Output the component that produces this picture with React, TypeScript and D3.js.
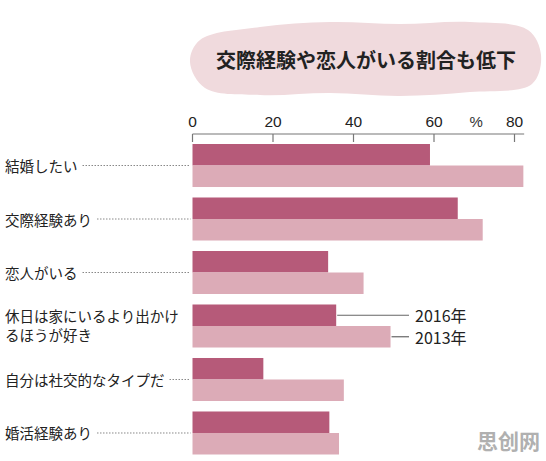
import { useMemo } from "react";
import * as d3 from "d3";

// survey items, top to bottom
const categories = [
  "結婚したい",
  "交際経験あり",
  "恋人がいる",
  "休日は家にいるより出かけるほうが好き",
  "自分は社交的なタイプだ",
  "婚活経験あり",
];
// the long one wraps onto two lines
const labelLines: string[][] = [
  ["結婚したい"],
  ["交際経験あり"],
  ["恋人がいる"],
  ["休日は家にいるより出かけ", "るほうが好き"],
  ["自分は社交的なタイプだ"],
  ["婚活経験あり"],
];
const series = ["2016年", "2013年"];
const values2016 = [59.0, 65.9, 33.7, 35.7, 17.6, 34.0];
const values2013 = [82.2, 72.1, 42.5, 49.2, 37.6, 36.4];
const xTicks = [0, 20, 40, 60, 80];

const title = "交際経験や恋人がいる割合も低下";

const WIDTH = 546;
const HEIGHT = 461;
const COLORS = ["#b65a79", "#dcabb7"];
const JP = "'Noto Sans CJK JP', 'Noto Sans', sans-serif";
const NARROW = "'Liberation Sans Narrow', 'Liberation Sans', sans-serif";
const LABEL_SIZE = 14.5;

export default function App() {
  const xScale = useMemo(
    () => d3.scaleLinear().domain([0, 80]).range([192.5, 514.5]),
    []
  );

  const yScale = useMemo(
    () =>
      d3
        .scaleBand()
        .domain(categories)
        .range([144, 454.5])
        .paddingInner(0.196)
        .paddingOuter(0),
    []
  );

  const inner = d3
    .scaleBand()
    .domain(series)
    .range([0, yScale.bandwidth()])
    .padding(0);

  const axisY = 134;

  // the pink cloud behind the title
  const blob = d3.line().curve(d3.curveCatmullRomClosed)([
    [200, 40],
    [260, 27],
    [330, 22],
    [400, 24],
    [470, 22],
    [528, 30],
    [541, 55],
    [532, 84],
    [470, 92],
    [400, 96],
    [330, 93],
    [260, 95],
    [205, 88],
    [190, 62],
  ]) as string;

  const rows = categories.map((c, i) => {
    const y = yScale(c) ?? 0;
    const bw = inner.bandwidth();
    const mid = y + yScale.bandwidth() / 2;
    const lines = labelLines[i];
    const vals = [values2016[i], values2013[i]];
    const textEnd = 5 + lines[0].length * LABEL_SIZE;
    return (
      <g key={c}>
        {vals.map((v, j) => (
          <rect
            key={j}
            x={xScale(0)}
            y={y + (inner(series[j]) ?? 0)}
            width={xScale(v) - xScale(0)}
            height={bw}
            fill={COLORS[j]}
          />
        ))}
        {lines.length === 1 ? (
          <>
            <text
              x={5}
              y={mid}
              dominantBaseline="central"
              fontSize={LABEL_SIZE}
              fontFamily={JP}
              fill="#222"
            >
              {lines[0]}
            </text>
            <line
              x1={textEnd + 5}
              x2={xScale(0) - 2}
              y1={mid}
              y2={mid}
              stroke="#888"
              strokeWidth={1}
              strokeDasharray="1.5 1.5"
            />
          </>
        ) : (
          lines.map((l, k) => (
            <text
              key={k}
              x={5}
              y={mid - 1 + (k - (lines.length - 1) / 2) * 19}
              dominantBaseline="central"
              fontSize={LABEL_SIZE}
              fontFamily={JP}
              fill="#222"
            >
              {l}
            </text>
          ))
        )}
      </g>
    );
  });

  // legend hangs off the fourth group
  const legendY = yScale(categories[3]) ?? 0;
  const legendVals = [values2016[3], values2013[3]];
  const legend = series.map((s, j) => {
    const cy = legendY + (inner(s) ?? 0) + inner.bandwidth() / 2;
    return (
      <g key={s}>
        <line
          x1={xScale(legendVals[j]) + 1}
          x2={409}
          y1={cy}
          y2={cy}
          stroke="#666"
          strokeWidth={1.2}
        />
        <text
          x={415}
          y={cy}
          dominantBaseline="central"
          fontSize={16}
          fontFamily={JP}
          fill="#222"
        >
          {s}
        </text>
      </g>
    );
  });

  return (
    <svg
      width={WIDTH}
      height={HEIGHT}
      style={{ position: "absolute", left: 0, top: 0, background: "#fff" }}
    >
      <path d={blob} fill="#f0dadd" />
      <text
        x={366}
        y={59}
        textAnchor="middle"
        dominantBaseline="central"
        fontSize={20}
        fontWeight={600}
        fontFamily={JP}
        fill="#222"
      >
        {title}
      </text>

      <line
        x1={xScale(0)}
        x2={xScale(82.4)}
        y1={axisY}
        y2={axisY}
        stroke="#777"
        strokeWidth={1.2}
      />
      {xTicks.map((t) => (
        <g key={t}>
          <line
            x1={xScale(t)}
            x2={xScale(t)}
            y1={axisY}
            y2={axisY + 8}
            stroke="#777"
            strokeWidth={1.2}
          />
          <text
            x={xScale(t)}
            y={121}
            textAnchor="middle"
            dominantBaseline="central"
            fontSize={15.5}
            fontFamily={NARROW}
            fill="#222"
          >
            {t}
          </text>
        </g>
      ))}
      <text
        x={xScale(70.5)}
        y={121}
        textAnchor="middle"
        dominantBaseline="central"
        fontSize={15}
        fontFamily={NARROW}
        fill="#333"
      >
        %
      </text>

      {rows}
      {legend}

      <text
        x={540}
        y={440}
        textAnchor="end"
        dominantBaseline="central"
        fontSize={21}
        fontWeight={700}
        fontFamily={JP}
        fill="#b0b0b0"
      >
        思创网
      </text>
    </svg>
  );
}
